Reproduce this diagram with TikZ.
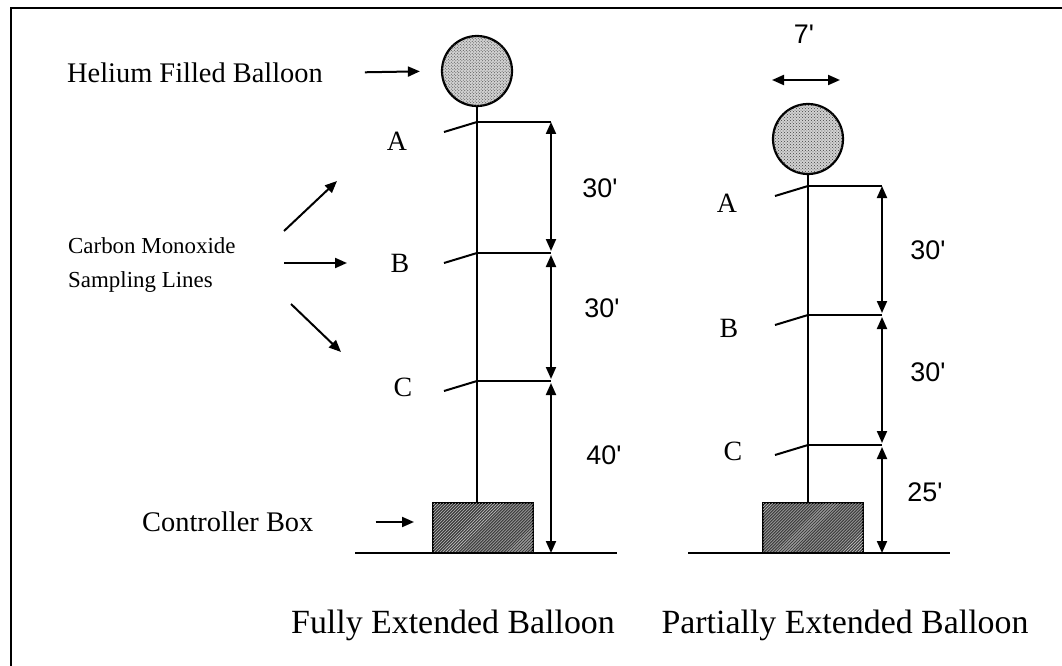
\documentclass[tikz,border=0pt]{standalone}
\usepackage{fontspec}
\setmainfont{Liberation Serif}
\newfontfamily\dimfont{Liberation Sans}
\usetikzlibrary{arrows.meta,patterns,positioning}

\tikzset{
  ink/.style={line width=2bp},
  ptr/.style={ink,-{Triangle[length=12bp,width=10bp]}},
  dimline/.style={ink,{Triangle[length=12bp,width=10bp]}-{Triangle[length=12bp,width=10bp]}},
  balloon/.style={circle,draw,line width=2.2bp,minimum size=70bp,inner sep=0pt,fill=gray!35,
    postaction={pattern=crosshatch dots,pattern color=black!75}},
  ctrlbox/.style={draw,ink,minimum width=100bp,minimum height=50bp,inner sep=0pt,fill=black!75,
    postaction={pattern=north east lines,pattern color=white!85!black}},
  lbl/.style={font=\fontsize{28.5}{34}\selectfont,inner sep=0pt},
  ptlbl/.style={font=\fontsize{28}{30}\selectfont,inner sep=0pt},
  dimtxt/.style={font=\dimfont\fontsize{27}{30}\selectfont,inner sep=0pt},
  heading/.style={font=\fontsize{34}{40}\selectfont,inner sep=0pt},
}

\begin{document}
\begin{tikzpicture}[x=1bp,y=-1bp]
\useasboundingbox (0,0) rectangle (1062,666);
\draw[line width=2.2bp] (11,666) -- (11,8) -- (1062,8);

% left: fully extended
\node[balloon] (balL) at (477,71) {};
\node[ctrlbox] (boxL) at (483,528) {};
\draw[ink] (balL.south) -- (balL.south |- boxL.north);
\coordinate (AL) at (477,122);
\coordinate (BL) at (477,253);
\coordinate (CL) at (477,381);
\coordinate (dL) at (551,553);
\draw[ink] (355,553) -- (617,553);

% right: partially extended
\node[balloon] (balR) at (808,139) {};
\node[ctrlbox] (boxR) at (813,528) {};
\draw[ink] (balR.south) -- (balR.south |- boxR.north);
\coordinate (AR) at (808,186);
\coordinate (BR) at (808,315);
\coordinate (CR) at (808,445);
\coordinate (dR) at (882,553);
\draw[ink] (688,553) -- (950,553);

% sampling lines and dimension arrows
\foreach \p/\d in {AL/dL,BL/dL,CL/dL,AR/dR,BR/dR,CR/dR} {
  \draw[ink] (\p) -- ++(-33,10);
  \draw[ink] (\p) -- (\p -| \d);
}
\draw[dimline,shorten >=2bp] (AL -| dL) -- (BL -| dL);
\draw[dimline,shorten <=2bp,shorten >=2bp] (BL -| dL) -- (CL -| dL);
\draw[dimline,shorten <=2bp] (CL -| dL) -- (dL);
\draw[dimline,shorten >=2bp] (AR -| dR) -- (BR -| dR);
\draw[dimline,shorten <=2bp,shorten >=2bp] (BR -| dR) -- (CR -| dR);
\draw[dimline,shorten <=2bp] (CR -| dR) -- (dR);

\node[ptlbl] (labAL) at (397,141) {A};
\node[ptlbl] (labBL) at (400,263) {B};
\node[ptlbl] (labCL) at (403,387) {C};
\node[ptlbl] (labAR) at (727,203) {A};
\node[ptlbl] (labBR) at (729,328) {B};
\node[ptlbl] (labCR) at (733,451) {C};

\node[dimtxt] (dAB) at (600,188) {30'};
\node[dimtxt] (dBC) at (602,308) {30'};
\node[dimtxt] (dCG) at (604,455) {40'};
\node[dimtxt] (pAB) at (928,250) {30'};
\node[dimtxt] (pBC) at (928,372) {30'};
\node[dimtxt] (pCG) at (925,492) {25'};

% balloon width
\node[dimtxt] (wid) at (804,34) {7'};
\coordinate (wl) at (772,80);
\coordinate (wr) at (840,80);
\draw[dimline] (wl) -- (wr);

% left captions
\node[lbl,anchor=west] (helium) at (67,73) {Helium Filled Balloon};
\draw[ptr,shorten <=42bp,shorten >=21bp] (helium.east) -- (balL.west);

\node[font=\fontsize{23}{34}\selectfont,inner sep=0pt,align=left,anchor=west] (cmo) at (68,265) {Carbon Monoxide\\Sampling Lines};
\coordinate (up0) at (284,231);
\coordinate (up1) at (337,181);
\coordinate (mid0) at (284,263);
\coordinate (mid1) at (347,263);
\coordinate (lo0) at (291,304);
\coordinate (lo1) at (341,352);
\draw[ptr] (up0) -- (up1);
\draw[ptr] (mid0) -- (mid1);
\draw[ptr] (lo0) -- (lo1);

\node[lbl,anchor=west] (ctrl) at (142,522) {Controller Box};
\draw[ptr,shorten <=62bp,shorten >=18bp] (ctrl.east) -- (ctrl.east -| boxL.west);

\node[heading] (capL) at (453,625) {Fully Extended Balloon};
\node[heading] (capR) at (845,625) {Partially Extended Balloon};
\end{tikzpicture}
\end{document}
